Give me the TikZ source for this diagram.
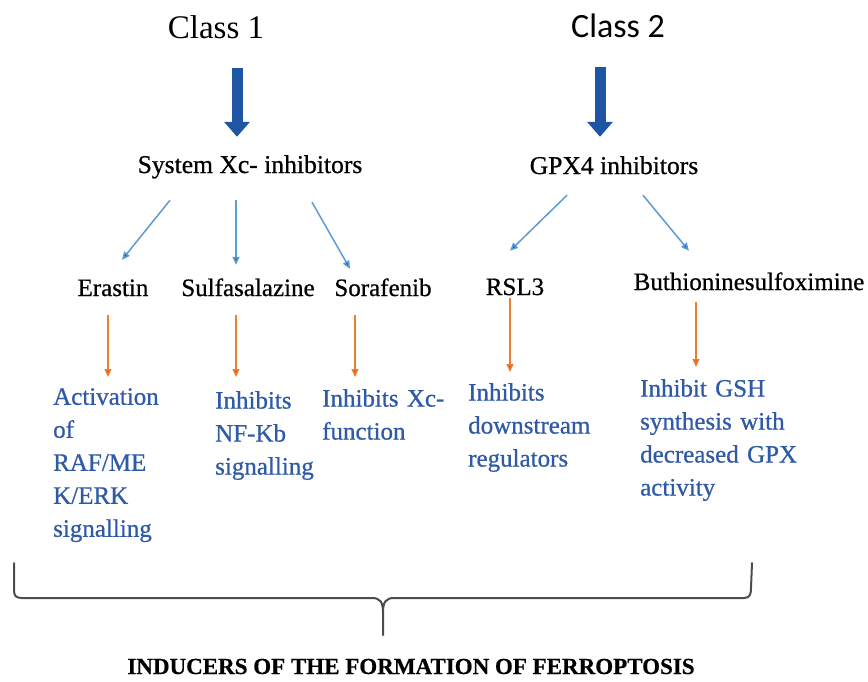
\documentclass[tikz,border=0pt]{standalone}
\usepackage{fontspec}
\setmainfont{Liberation Serif}
\newfontfamily\calfont{Carlito}
\newfontfamily\heavy{Liberation Serif}[FakeBold=0.7]
\newfontfamily\heavybf{Liberation Serif Bold}[FakeBold=0.5]
\usepackage{tikz}
\usetikzlibrary{arrows.meta,calc}
\definecolor{bigblue}{RGB}{31,85,165}
\definecolor{thinblue}{RGB}{91,155,213}
\definecolor{tipblue}{RGB}{40,100,190}
\definecolor{txtblue}{RGB}{46,90,166}
\definecolor{orline}{RGB}{237,125,49}
\definecolor{ortip}{RGB}{232,80,26}
\tikzset{lbl/.style={inner sep=0pt,text height=17pt,text depth=6pt,font=\heavy\fontsize{25}{30}\selectfont},
	effect/.style={inner sep=0pt,anchor=north west,align=left,text width=200pt,text=txtblue,font=\heavy\fontsize{25}{33}\selectfont},
	bigarr/.style={draw=bigblue,line width=11pt,-{Triangle[length=15pt,width=25pt]}},
	thinarr/.style={draw=thinblue,line width=1.5pt,-{Triangle[length=8pt,width=7pt,fill=tipblue]}},
	orarr/.style={draw=orline,line width=1.5pt,-{Triangle[length=8pt,width=7pt,fill=ortip]}}}

\begin{document}
\begin{tikzpicture}[x=1pt,y=-1pt]
	\useasboundingbox (0,0) rectangle (868,681);
	% classes
	\node[inner sep=0pt,anchor=base,font=\fontsize{33}{36}\selectfont] (cl1) at (216,38) {Class 1};
	\node[inner sep=0pt,anchor=base,font=\calfont\fontsize{34}{36}\selectfont] (cl2) at (618,37) {Class 2};
	\node[lbl,anchor=base,font=\heavy\fontsize{25.6}{30}\selectfont] (sysxc) at (250,173) {System Xc- inhibitors};
	\node[lbl,anchor=base,font=\heavy\fontsize{25.6}{30}\selectfont] (gpx) at (614,174) {GPX4 inhibitors};

	\draw[bigarr] ($(cl1.south)+(21,29)$) -- ($(sysxc.north)+(-13,-19)$);
	\draw[bigarr] ($(cl2.south)+(-18,30)$) -- ($(gpx.north)+(-14,-20)$);

	% inhibitors
	\node[lbl,anchor=base] (era) at (113,296) {Erastin};
	\node[lbl,anchor=base] (sulf) at (248,296) {Sulfasalazine};
	\node[lbl,anchor=base] (sora) at (383,296) {Sorafenib};
	\node[lbl,anchor=base] (rsl) at (515,295) {RSL3};
	\node[lbl,anchor=base] (bso) at (749,290) {Buthioninesulfoximine};

	\draw[thinarr] ($(sysxc.south)+(-80,21)$) -- ($(era.north)+(9,-19)$);
	\draw[thinarr] ($(sysxc.south)+(-14,21)$) -- ($(sulf.north)+(-12,-14)$);
	\draw[thinarr] ($(sysxc.south)+(62,23)$) -- ($(sora.north)+(-33,-10)$);
	\draw[thinarr] ($(gpx.south)+(-47,15)$) -- ($(rsl.north)+(-5,-27)$);
	\draw[thinarr] ($(gpx.south)+(29,15)$) -- ($(bso.north)+(-60,-22)$);

	% effects
	\node[effect] (act) at (53,388) {Activation\\of\\RAF/ME\\K/ERK\\signalling};
	\node[effect] (nfkb) at (215,391) {Inhibits\\NF-Kb\\signalling};
	\node[effect] (xcf) at (322,389) {Inhibits Xc-\\function};
	\node[effect] (down) at (468,383) {Inhibits\\downstream\\regulators};
	\node[effect] (gsh) at (640,379) {Inhibit GSH\\synthesis with\\decreased GPX\\activity};

	\draw[orarr] ($(era.south)+(-5,13)$) -- ($(act.north west)+(55,-11)$);
	\draw[orarr] ($(sulf.south)+(-12,13)$) -- ($(nfkb.north west)+(21,-14)$);
	\draw[orarr] ($(sora.south)+(-28,13)$) -- ($(xcf.north west)+(33,-12)$);
	\draw[orarr] ($(rsl.south)+(-5,-3)$) -- ($(down.north west)+(42,-11)$);
	\draw[orarr] ($(bso.south)+(-53,6)$) -- ($(gsh.north west)+(56,-12)$);

	% brace
	\draw[black!70,line width=2pt,line cap=round,line join=round]
		(14,563) -- (14,590) .. controls (14,596) and (16,598) .. (22,598) -- (372,598)
		.. controls (380,598) and (383,602) .. (383,612) -- (383,635)
		(383,612) .. controls (383,602) and (386,598) .. (394,598) -- (744,598)
		.. controls (750,598) and (751,594) .. (751,588) -- (752,563);
	\node[inner sep=0pt,anchor=base,font=\heavybf\fontsize{23}{26}\selectfont] (ind) at (411,674) {INDUCERS OF THE FORMATION OF FERROPTOSIS};
\end{tikzpicture}
\end{document}
